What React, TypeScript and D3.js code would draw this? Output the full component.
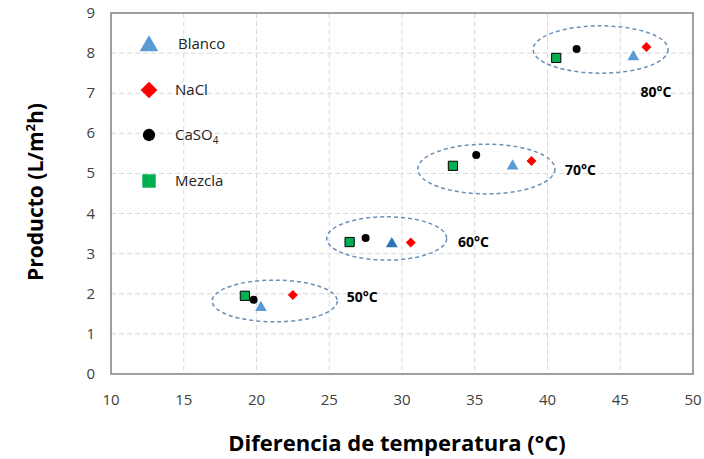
import React, { useEffect, useRef } from 'react'
import * as d3 from 'd3'

// values: [temperature difference, product]
const blanco: [number, number][] = [[20.3, 1.68], [29.3, 3.27], [37.6, 5.21], [45.9, 7.93]]
const nacl: [number, number][] = [[22.5, 1.97], [30.6, 3.28], [38.9, 5.31], [46.8, 8.15]]
const caso4: [number, number][] = [[19.8, 1.85], [27.5, 3.39], [35.1, 5.46], [42.0, 8.1]]
const mezcla: [number, number][] = [[19.2, 1.95], [26.4, 3.29], [33.5, 5.19], [40.6, 7.88]]

// cluster ellipses: center x, center y, radius x, radius y (data units)
const clusters: [number, number, number, number][] = [
  [21.25, 1.82, 4.3, 0.52],
  [28.95, 3.38, 4.12, 0.54],
  [35.8, 5.11, 4.71, 0.62],
  [43.65, 8.09, 4.64, 0.59],
]
const clusterLabels = ['50°C', '60°C', '70°C', '80°C']
const labelPos: [number, number][] = [[26.2, 1.8], [33.85, 3.17], [41.2, 4.96], [46.4, 6.9]]

const xTicks = [10, 15, 20, 25, 30, 35, 40, 45, 50]
const yTicks = [0, 1, 2, 3, 4, 5, 6, 7, 8, 9]

const font = 'Open Sans, sans-serif'

function App() {
  const svgRef = useRef<SVGSVGElement>(null)

  useEffect(() => {
    const width = 704
    const height = 459
    const left = 111, right = 693, top = 13, bottom = 374

    const svg = d3.select(svgRef.current)
    svg.selectAll('*').remove()
    svg.attr('width', width).attr('height', height)

    const x = d3.scaleLinear().domain([10, 50]).range([left, right])
    const y = d3.scaleLinear().domain([0, 9]).range([bottom, top])

    // grid
    svg.append('g')
      .selectAll('line')
      .data(yTicks.slice(1, -1))
      .join('line')
      .attr('x1', left).attr('x2', right)
      .attr('y1', d => y(d)).attr('y2', d => y(d))
      .style('stroke', '#d9d9d9').style('stroke-dasharray', '5,3')
    svg.append('g')
      .selectAll('line')
      .data(xTicks.slice(1, -1))
      .join('line')
      .attr('y1', top).attr('y2', bottom)
      .attr('x1', d => x(d)).attr('x2', d => x(d))
      .style('stroke', '#d9d9d9').style('stroke-dasharray', '5,3')

    // frame
    svg.append('rect')
      .attr('x', left).attr('y', top)
      .attr('width', right - left).attr('height', bottom - top)
      .style('fill', 'none').style('stroke', '#808080').style('stroke-width', 1.5)

    // tick labels
    svg.append('g')
      .selectAll('text')
      .data(yTicks)
      .join('text')
      .attr('x', left - 16).attr('y', d => y(d) + 5)
      .attr('text-anchor', 'end')
      .style('font-family', font).style('font-size', '15px').style('fill', '#404040')
      .text(d => d)
    svg.append('g')
      .selectAll('text')
      .data(xTicks)
      .join('text')
      .attr('x', d => x(d)).attr('y', bottom + 31)
      .attr('text-anchor', 'middle')
      .style('font-family', font).style('font-size', '15px').style('fill', '#404040')
      .text(d => d)

    // axis titles
    svg.append('text')
      .attr('x', 397).attr('y', 451)
      .attr('text-anchor', 'middle')
      .style('font-family', font).style('font-size', '22px').style('font-weight', 'bold')
      .text('Diferencia de temperatura (°C)')
    const yt = svg.append('text')
      .attr('transform', 'translate(43,192) rotate(-90)')
      .attr('text-anchor', 'middle')
      .style('font-family', font).style('font-size', '21px').style('font-weight', 'bold')
    yt.append('tspan').text('Producto (L/m')
    yt.append('tspan').attr('dy', -8).style('font-size', '13px').text('2')
    yt.append('tspan').attr('dy', 8).text('h)')

    // ellipses
    svg.append('g')
      .selectAll('ellipse')
      .data(clusters)
      .join('ellipse')
      .attr('cx', d => x(d[0])).attr('cy', d => y(d[1]))
      .attr('rx', d => x(d[0] + d[2]) - x(d[0]))
      .attr('ry', d => y(d[1]) - y(d[1] + d[3]))
      .style('fill', 'none').style('stroke', '#6a8fb8').style('stroke-width', 1.5)
      .style('stroke-dasharray', '4,3')

    svg.append('g')
      .selectAll('text')
      .data(clusterLabels)
      .join('text')
      .attr('x', (d, i) => x(labelPos[i][0])).attr('y', (d, i) => y(labelPos[i][1]))
      .style('font-family', font).style('font-size', '14px').style('font-weight', 'bold')
      .text(d => d)

    const tri = d3.symbol(d3.symbolTriangle, 60)
    const dia = d3.symbol(d3.symbolSquare, 50)
    const cir = d3.symbol(d3.symbolCircle, 50)
    const sq = d3.symbol(d3.symbolSquare, 85)

    const pts = svg.append('g')
    pts.selectAll('.m').data(mezcla).join('path').attr('class', 'm')
      .attr('d', sq).attr('transform', d => `translate(${x(d[0])},${y(d[1])})`)
      .style('fill', '#00b050').style('stroke', '#000').style('stroke-width', 1)
    pts.selectAll('.c').data(caso4).join('path').attr('class', 'c')
      .attr('d', cir).attr('transform', d => `translate(${x(d[0])},${y(d[1])})`)
      .style('fill', '#000')
    pts.selectAll('.b').data(blanco).join('path').attr('class', 'b')
      .attr('d', tri).attr('transform', d => `translate(${x(d[0])},${y(d[1]) + 1})`)
      .style('fill', (d, i) => i === 1 ? '#2e75b6' : '#5b9bd5')
    pts.selectAll('.n').data(nacl).join('path').attr('class', 'n')
      .attr('d', dia).attr('transform', d => `translate(${x(d[0])},${y(d[1])}) rotate(45)`)
      .style('fill', '#ff0000')

    // legend
    const leg = [
      { name: 'Blanco', sym: d3.symbol(d3.symbolTriangle, 150), fill: '#5b9bd5', ly: 44, rot: 0 },
      { name: 'NaCl', sym: d3.symbol(d3.symbolSquare, 140), fill: '#ff0000', ly: 90, rot: 45 },
      { name: 'CaSO', sym: d3.symbol(d3.symbolCircle, 120), fill: '#000', ly: 135, rot: 0 },
      { name: 'Mezcla', sym: d3.symbol(d3.symbolSquare, 180), fill: '#00b050', ly: 181, rot: 0 },
    ]
    const lg = svg.append('g').selectAll('g').data(leg).join('g')
      .attr('transform', d => `translate(149,${d.ly})`)
    lg.append('path').attr('d', d => d.sym()).style('fill', d => d.fill)
      .attr('transform', (d, i) => i === 0 ? 'translate(0,2)' : `rotate(${d.rot})`)
    const lt = lg.append('text')
      .attr('x', (d, i) => i === 0 ? 29 : 26).attr('y', 5)
      .style('font-family', font).style('font-size', '15px').style('fill', '#222')
    lt.append('tspan').text(d => d.name)
    lt.filter(d => d.name === 'CaSO').append('tspan').attr('dy', 4).style('font-size', '10px').text('4')
  }, [])

  return <svg ref={svgRef} style={{ position: 'absolute', left: 0, top: 0 }}></svg>
}

export default App
